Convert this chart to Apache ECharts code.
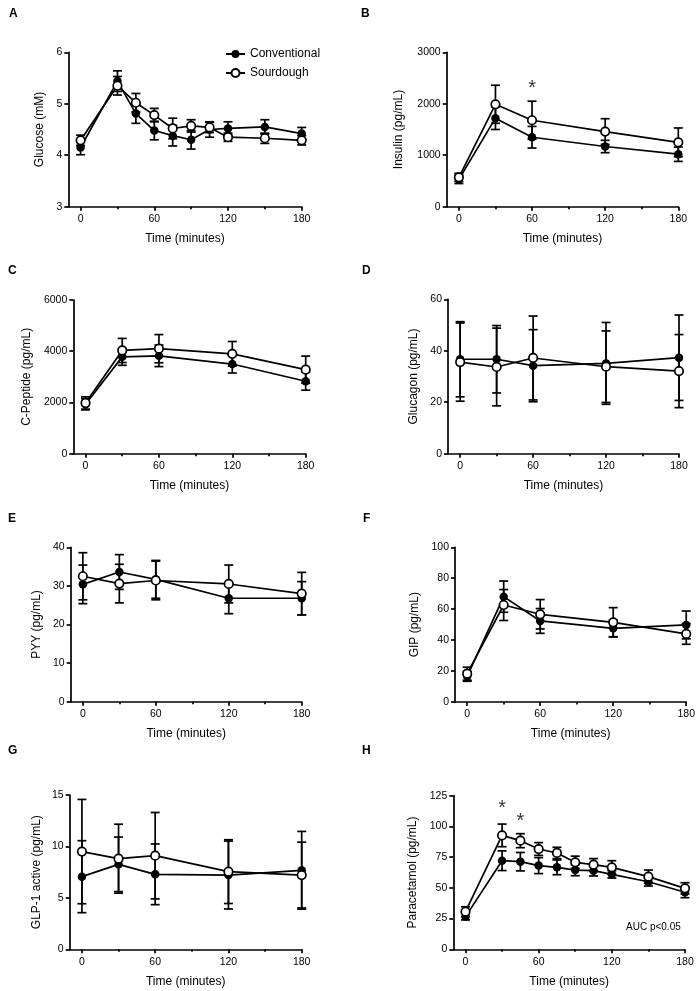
<!DOCTYPE html>
<html>
<head>
<meta charset="utf-8">
<script src="https://cdn.jsdelivr.net/npm/echarts@6/dist/echarts.min.js"></script>
<style>
html,body{margin:0;padding:0;background:#fff;}
#chart{width:698px;height:991px;}
</style>
</head>
<body>
<div id="chart"></div>
<script>
// ---------- DATA ----------
const timesLong = [0, 30, 45, 60, 75, 90, 105, 120, 150, 180];
const timesShort = [0, 30, 60, 120, 180];
const xMajorTicks = [0, 60, 120, 180];
const xMinorTicks = [30, 90, 150];

// A Glucose (mM)
const glucoseConv    = [4.15, 5.44, 4.81, 4.48, 4.38, 4.30, 4.50, 4.52, 4.55, 4.42];
const glucoseConvErr = [0.14, 0.20, 0.19, 0.18, 0.20, 0.18, 0.15, 0.13, 0.14, 0.12];
const glucoseSour    = [4.29, 5.35, 5.02, 4.78, 4.52, 4.57, 4.54, 4.35, 4.33, 4.29];
const glucoseSourErr = [0.10, 0.18, 0.18, 0.13, 0.20, 0.12, 0.10, 0.08, 0.10, 0.09];

// B Insulin (pg/mL)
const insulinConv    = [530, 1720, 1350, 1170, 1020];
const insulinConvErr = [80, 220, 210, 120, 140];
const insulinSour    = [570, 1990, 1680, 1460, 1250];
const insulinSourErr = [80, 370, 370, 250, 280];

// C C-Peptide (pg/mL)
const cpepConv    = [1930, 3780, 3820, 3500, 2830];
const cpepConvErr = [220, 330, 420, 350, 350];
const cpepSour    = [1980, 4030, 4100, 3900, 3280];
const cpepSourErr = [240, 470, 550, 480, 530];

// D Glucagon (pg/mL)
const glucagonConv    = [36.7, 36.7, 34.2, 35.1, 37.3];
const glucagonConvErr = [14.6, 13.1, 14.0, 15.9, 16.6];
const glucagonSour    = [35.6, 33.7, 37.2, 33.8, 32.1];
const glucagonSourErr = [15.2, 15.1, 16.3, 13.9, 14.2];

// E PYY (pg/mL)
const pyyConv    = [30.4, 33.6, 31.7, 26.8, 26.8];
const pyyConvErr = [5.0, 4.5, 4.9, 4.0, 4.3];
const pyySour    = [32.5, 30.6, 31.4, 30.5, 28.0];
const pyySourErr = [6.1, 5.0, 5.0, 4.9, 5.5];

// F GIP (pg/mL)
const gipConv    = [16.6, 68.1, 52.4, 47.6, 49.8];
const gipConvErr = [3.2, 10.1, 8.0, 5.4, 9.0];
const gipSour    = [18.3, 62.7, 56.7, 51.5, 44.0];
const gipSourErr = [4.2, 10.0, 9.5, 9.5, 6.7];

// G GLP-1 active (pg/mL)
const glpConv    = [7.06, 8.26, 7.29, 7.22, 7.68];
const glpConvErr = [3.50, 2.65, 2.95, 3.30, 3.78];
const glpSour    = [9.50, 8.81, 9.10, 7.55, 7.22];
const glpSourErr = [5.07, 3.35, 4.20, 3.10, 3.20];

// H Paracetamol (pg/mL)
const paraConv    = [26.6, 72.1, 71.3, 68.1, 66.7, 64.5, 64.0, 61.0, 55.0, 46.4];
const paraConvErr = [2.7, 8.0, 7.5, 6.5, 6.0, 4.6, 4.3, 3.0, 3.5, 4.4];
const paraSour    = [30.6, 92.7, 88.4, 81.6, 78.4, 70.8, 68.9, 66.7, 59.1, 49.6];
const paraSourErr = [4.0, 9.2, 5.7, 5.2, 4.6, 5.0, 4.9, 5.4, 5.4, 4.6];

// significance markers [time, value]
const starsB = [[60, 2300]];
const starsH = [[30, 115], [45, 104]];

// ---------- LAYOUT ----------
const FONT = 'Liberation Sans, Arial, Helvetica, sans-serif';
const panels = [
  {letter:'A', lx:9,   ly:8,   grid:{left:68.3, top:52.3, width:233.4, height:154.4}, yName:'Glucose (mM)',        nameGap:23, min:3, max:6,    interval:1,    t:timesLong,  c:glucoseConv, ce:glucoseConvErr, s:glucoseSour, se:glucoseSourErr},
  {letter:'B', lx:361, ly:8,   grid:{left:446.7, top:52.3, width:231.6, height:154.4}, yName:'Insulin (pg/mL)',    nameGap:42, min:0, max:3000, interval:1000, t:timesShort, c:insulinConv, ce:insulinConvErr, s:insulinSour, se:insulinSourErr, stars:starsB},
  {letter:'C', lx:8,   ly:265, grid:{left:73.3, top:300, width:232.4, height:153.7},   yName:'C-Peptide (pg/mL)',  nameGap:41, min:0, max:6000, interval:2000, t:timesShort, c:cpepConv, ce:cpepConvErr, s:cpepSour, se:cpepSourErr},
  {letter:'D', lx:362, ly:265, grid:{left:448, top:299.3, width:231, height:154.4},    yName:'Glucagon (pg/mL)',   nameGap:28, min:0, max:60,   interval:20,   t:timesShort, c:glucagonConv, ce:glucagonConvErr, s:glucagonSour, se:glucagonSourErr},
  {letter:'E', lx:8,   ly:513, grid:{left:70.7, top:547.3, width:231, height:154.4},   yName:'PYY (pg/mL)',        nameGap:28, min:0, max:40,   interval:10,   t:timesShort, c:pyyConv, ce:pyyConvErr, s:pyySour, se:pyySourErr},
  {letter:'F', lx:363, ly:513, grid:{left:455, top:547.3, width:231.3, height:154.7},  yName:'GIP (pg/mL)',        nameGap:34, min:0, max:100,  interval:20,   t:timesShort, c:gipConv, ce:gipConvErr, s:gipSour, se:gipSourErr},
  {letter:'G', lx:8,   ly:745, grid:{left:69.7, top:795, width:232, height:154.3},     yName:'GLP-1 active (pg/mL)', nameGap:27, min:0, max:15, interval:5,    t:timesShort, c:glpConv, ce:glpConvErr, s:glpSour, se:glpSourErr},
  {letter:'H', lx:362, ly:745, grid:{left:453.3, top:795.7, width:231.7, height:153.6}, yName:'Paracetamol (pg/mL)', nameGap:35, min:0, max:125, interval:25,   t:timesLong,  c:paraConv, ce:paraConvErr, s:paraSour, se:paraSourErr, stars:starsH}
];

const LW = 1.7;
function errRender(params, api) {
  const x = api.value(0), lo = api.value(1), hi = api.value(2);
  const a = api.coord([x, hi]), b = api.coord([x, lo]);
  const hw = 4.5;
  const style = {stroke:'#000', lineWidth:LW};
  return {type:'group', children:[
    {type:'line', shape:{x1:a[0], y1:a[1], x2:b[0], y2:b[1]}, style:style},
    {type:'line', shape:{x1:a[0]-hw, y1:a[1], x2:a[0]+hw, y2:a[1]}, style:style},
    {type:'line', shape:{x1:b[0]-hw, y1:b[1], x2:b[0]+hw, y2:b[1]}, style:style}
  ]};
}

const grids = [], xAxes = [], yAxes = [], series = [], titles = [];
panels.forEach((p, i) => {
  grids.push(Object.assign({containLabel:false}, p.grid));
  titles.push({text:p.letter, left:p.lx, top:p.ly, padding:0,
    textStyle:{fontFamily:FONT, fontSize:12, fontWeight:'bold', color:'#000'}});
  xAxes.push({
    type:'value', gridIndex:i, min:-10, max:180, position:'bottom',
    name:'Time (minutes)', nameLocation:'middle', nameGap:26,
    nameTextStyle:{fontFamily:FONT, fontSize:12, color:'#000'},
    axisLine:{show:true, onZero:false, lineStyle:{color:'#000', width:LW}},
    axisTick:{show:true, length:4, lineStyle:{color:'#000', width:LW}, customValues:xMajorTicks},
    axisLabel:{show:true, margin:7, fontFamily:FONT, fontSize:10.5, color:'#000', customValues:xMajorTicks,
      formatter:(v) => String(v)},
    splitLine:{show:false}
  });
  yAxes.push({
    type:'value', gridIndex:i, min:p.min, max:p.max, interval:p.interval,
    name:p.yName, nameLocation:'middle', nameGap:p.nameGap,
    nameTextStyle:{fontFamily:FONT, fontSize:12, color:'#000'},
    axisLine:{show:true, onZero:false, lineStyle:{color:'#000', width:LW}},
    axisTick:{show:true, length:4, lineStyle:{color:'#000', width:LW}},
    axisLabel:{show:true, margin:6, fontFamily:FONT, fontSize:10.5, color:'#000', formatter:(v) => String(v)},
    splitLine:{show:false}
  });
});
panels.forEach((p, i) => {
  xAxes.push({
    type:'value', gridIndex:i, min:-10, max:180, position:'bottom', offset:0,
    axisLine:{show:false, onZero:false},
    axisTick:{show:true, length:2.5, lineStyle:{color:'#000', width:LW}, customValues:xMinorTicks},
    axisLabel:{show:false},
    splitLine:{show:false}
  });
});

panels.forEach((p, i) => {
  const errData = (m, e) => p.t.map((t, k) => [t, m[k] - e[k], m[k] + e[k]]);
  series.push({type:'custom', name:'errC'+i, xAxisIndex:i, yAxisIndex:i, renderItem:errRender,
    data:errData(p.c, p.ce), encode:{x:0, y:[1,2]}, z:1, silent:true});
  series.push({type:'custom', name:'errS'+i, xAxisIndex:i, yAxisIndex:i, renderItem:errRender,
    data:errData(p.s, p.se), encode:{x:0, y:[1,2]}, z:1, silent:true});
  series.push({type:'line', name:'Conventional', xAxisIndex:i, yAxisIndex:i,
    data:p.t.map((t, k) => [t, p.c[k]]), symbol:'circle', symbolSize:8.5, showAllSymbol:true,
    lineStyle:{color:'#000', width:LW}, itemStyle:{color:'#000', borderColor:'#000', borderWidth:0}, z:3, silent:true});
  series.push({type:'line', name:'Sourdough', xAxisIndex:i, yAxisIndex:i,
    data:p.t.map((t, k) => [t, p.s[k]]), symbol:'circle', symbolSize:8.5, showAllSymbol:true,
    lineStyle:{color:'#000', width:LW}, itemStyle:{color:'#fff', borderColor:'#000', borderWidth:1.7}, z:4, silent:true});
  if (p.stars) {
    series.push({type:'scatter', name:'sig'+i, xAxisIndex:i, yAxisIndex:i, data:p.stars,
      symbolSize:0, silent:true, z:5,
      label:{show:true, position:'inside', formatter:'*', fontFamily:FONT, fontSize:20, color:'#000'}});
  }
});

const chart = echarts.init(document.getElementById('chart'), null, {renderer:'canvas'});
chart.setOption({
  animation:false,
  backgroundColor:'#fff',
  title:titles,
  legend:{
    data:['Conventional', 'Sourdough'], orient:'vertical', left:225, top:48, padding:0,
    itemWidth:19, itemHeight:10, itemGap:7, selectedMode:false,
    textStyle:{fontFamily:FONT, fontSize:12, color:'#000'}
  },
  grid:grids, xAxis:xAxes, yAxis:yAxes, series:series,
  graphic:[{type:'text', left:626, top:922, style:{text:'AUC p<0.05', fontFamily:FONT, fontSize:10, fill:'#000'}}]
});
</script>
</body>
</html>
